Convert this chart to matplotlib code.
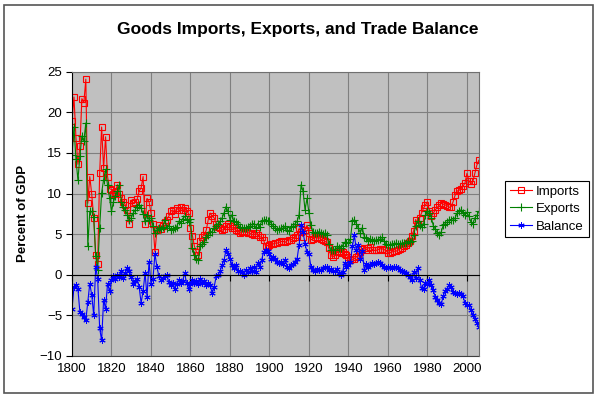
import matplotlib
matplotlib.use('Agg')
import matplotlib.pyplot as plt
from matplotlib.patches import Rectangle

plt.rcParams['font.family'] = ['Liberation Sans', 'DejaVu Sans']

#years on the x axis
years = list(range(1800, 2007))

#goods imports, percent of GDP (one value per year)
imports = [
    19.0, 21.9, 16.9, 13.6, 15.8, 21.7, 21.2, 24.1, 8.8, 12.1,
    9.9, 7.0, 2.4, 1.3, 12.5, 18.2, 13.1, 17.0, 12.1, 10.6,
    10.5, 9.9, 10.2, 11.1, 9.9, 9.5, 9.0, 8.6, 8.0, 6.3,
    9.2, 8.8, 9.0, 9.3, 10.3, 10.7, 12.1, 6.3, 9.4, 9.0,
    7.6, 6.3, 2.8, 5.5, 6.1, 5.6, 6.0, 6.5, 6.8, 7.2,
    7.8, 8.0, 7.5, 8.2, 8.0, 8.3, 8.0, 8.2, 7.8, 7.6,
    5.7, 4.8, 3.5, 2.8, 2.4, 4.2, 4.7, 4.9, 5.5, 6.8,
    7.6, 7.2, 7.0, 6.3, 5.9, 5.7, 5.5, 5.6, 6.0, 6.3,
    6.0, 5.8, 5.7, 5.5, 5.4, 5.1, 5.3, 5.4, 5.3, 5.2,
    5.1, 5.0, 4.9, 5.1, 4.9, 4.7, 4.6, 4.3, 3.5, 3.6,
    3.7, 3.8, 3.8, 3.9, 3.9, 4.0, 4.1, 4.1, 4.0, 4.2,
    4.3, 4.3, 4.5, 4.6, 4.9, 5.7, 5.3, 4.7, 5.5, 6.1,
    5.1, 4.3, 4.4, 4.6, 4.5, 4.6, 4.4, 4.3, 4.1, 4.0,
    3.3, 2.4, 2.2, 2.4, 2.8, 2.9, 2.7, 2.8, 2.5, 2.4,
    2.2, 1.8, 1.9, 2.0, 2.2, 2.3, 2.8, 3.2, 3.3, 3.1,
    3.3, 3.4, 3.1, 3.0, 3.0, 3.1, 3.2, 3.2, 3.1, 3.0,
    2.7, 2.7, 2.8, 2.9, 2.9, 3.0, 3.2, 3.3, 3.6, 3.7,
    3.9, 4.1, 4.8, 5.4, 6.8, 6.3, 7.0, 7.6, 8.2, 8.6,
    9.0, 7.8, 7.2, 7.6, 8.0, 8.3, 8.6, 8.8, 8.7, 8.6,
    8.5, 8.3, 8.4, 9.0, 9.8, 10.3, 10.4, 10.6, 10.9, 11.3,
    12.5, 11.6, 11.2, 11.5, 12.5, 13.5, 14.1]

#goods exports, percent of GDP
exports = [
    14.8, 18.2, 14.2, 11.7, 14.6, 17.1, 16.5, 18.7, 3.5, 7.8,
    7.8, 7.1, 2.3, 0.6, 5.8, 10.1, 11.7, 13.0, 11.0, 9.5,
    7.8, 9.0, 9.7, 10.3, 11.1, 9.0, 8.3, 8.0, 7.4, 6.8,
    7.0, 7.6, 8.0, 8.4, 8.6, 8.2, 7.5, 6.6, 7.4, 6.8,
    7.0, 6.0, 5.2, 5.5, 5.8, 5.6, 5.9, 6.8, 5.8, 6.0,
    5.5, 5.6, 5.8, 5.9, 6.6, 6.4, 6.9, 7.2, 6.8, 6.5,
    6.9, 3.3, 2.4, 2.0, 1.8, 3.5, 3.8, 4.0, 4.6, 4.9,
    5.3, 5.3, 5.7, 6.0, 6.3, 6.6, 7.0, 7.6, 8.4, 7.8,
    6.8, 7.4, 6.6, 6.5, 6.2, 5.9, 5.7, 5.8, 5.7, 5.9,
    6.0, 6.2, 6.3, 5.8, 6.3, 5.9, 6.6, 6.7, 6.8, 6.6,
    6.6, 6.3, 6.0, 5.8, 5.5, 5.6, 5.8, 5.7, 6.0, 5.5,
    5.4, 5.9, 6.0, 6.3, 6.6, 7.4, 11.1, 10.3, 8.0, 9.4,
    7.6, 6.1, 5.3, 5.2, 5.2, 5.3, 5.2, 5.0, 5.1, 4.9,
    3.8, 3.1, 3.0, 3.1, 3.5, 3.3, 3.3, 3.6, 4.0, 3.9,
    4.0, 4.4, 6.6, 6.8, 6.3, 5.7, 5.2, 5.8, 4.7, 4.5,
    4.1, 4.4, 4.3, 4.2, 4.3, 4.3, 4.4, 4.6, 4.2, 3.8,
    3.7, 3.7, 3.8, 3.8, 3.9, 3.8, 3.8, 3.9, 3.9, 3.9,
    4.1, 4.0, 4.2, 4.9, 6.0, 6.6, 6.1, 5.9, 6.2, 7.4,
    7.9, 7.6, 7.0, 6.0, 5.6, 5.1, 4.9, 5.3, 6.1, 6.3,
    6.5, 6.8, 6.8, 6.7, 7.0, 7.6, 7.8, 8.0, 7.6, 7.4,
    7.7, 7.2, 6.5, 6.3, 7.0, 7.3, 7.8]

#trade balance, percent of GDP
balance = [
    -4.2, -1.5, -1.3, -1.8, -4.6, -4.8, -5.2, -5.6, -3.3, -1.1,
    -2.5, -5.0, 1.0, -0.5, -6.6, -8.1, -3.1, -4.2, -1.1, -2.0,
    -0.7, -0.2, -0.5, 0.0, -0.3, 0.4, -0.4, 0.2, 0.8, 0.5,
    -0.3, -1.1, -0.8, -0.5, -1.5, -3.5, -2.0, 0.2, -2.7, 1.6,
    -1.1, -0.5, 2.6, 1.0, -0.2, -0.7, -0.4, -0.2, 0.0, -0.9,
    -1.3, -1.0, -1.7, -1.2, -0.6, -1.0, -0.8, 0.2, -1.0, -1.7,
    -1.2, -0.7, -1.0, -0.8, -1.2, -0.5, -1.0, -0.8, -1.3, -1.0,
    -1.3, -2.3, -1.5, -0.2, 0.0, 0.4, 1.2, 1.8, 3.1, 2.6,
    2.0, 1.2, 0.8, 1.2, 0.5, 0.4, 0.3, 0.0, 0.6, 0.3,
    0.8, 0.5, 1.0, 0.3, 1.4, 1.0, 1.8, 2.8, 3.1, 2.9,
    2.6, 2.0, 2.2, 1.9, 1.6, 1.4, 1.6, 1.3, 1.8, 1.0,
    0.8, 1.2, 1.3, 1.6, 2.0, 3.7, 6.1, 5.3, 3.8, 2.8,
    2.5, 1.0, 0.6, 0.5, 0.7, 0.6, 0.6, 0.8, 1.0, 0.9,
    0.6, 0.7, 0.4, 0.4, 0.7, 0.2, 0.0, 0.3, 1.5, 1.0,
    1.2, 1.6, 3.5, 4.9, 3.0, 3.7, 2.0, 2.9, 0.6, 1.3,
    1.0, 1.2, 1.5, 1.3, 1.5, 1.6, 1.4, 1.2, 1.0, 0.8,
    1.0, 1.0, 0.8, 0.9, 0.9, 0.8, 0.6, 0.5, 0.3, 0.2,
    0.0, -0.3, -0.6, 0.3, -0.4, 0.8, -0.7, -1.6, -1.7, -1.0,
    -1.1, -0.7, -1.3, -1.9, -2.8, -3.1, -3.5, -3.6, -2.6, -2.0,
    -1.7, -1.3, -1.5, -2.1, -2.3, -2.4, -2.3, -2.4, -2.6, -3.5,
    -3.7, -3.7, -4.4, -4.9, -5.4, -6.0, -6.4]

xticks = list(range(1800, 2001, 20))
yticks = list(range(-10, 26, 5))

fig = plt.figure(figsize=(6, 3.99), dpi=100)
ax = fig.add_axes([0.12, 0.108, 0.678, 0.712])
ax.set_facecolor('#c0c0c0')

#the three series, excel style
ax.plot(years, imports, color='#ff0000', lw=0.8, marker='s', ms=4.2,
        mfc='none', mec='#ff0000', mew=0.8, label='Imports')
ax.plot(years, exports, color='#008000', lw=0.8, marker='+', ms=5.5,
        mew=0.8, label='Exports')
ax.plot(years, balance, color='#0000ff', lw=0.8, marker=(6, 2, 0), ms=4.5,
        mew=0.7, label='Balance')

ax.set_xlim(1800, 2006)
ax.set_ylim(-10, 25)
ax.set_xticks(xticks)
ax.set_yticks(yticks)
ax.grid(True, color='#7f7f7f', lw=0.8)
ax.set_axisbelow(True)

#x axis line sits at zero, labels at the bottom
ax.spines['bottom'].set_position(('data', 0))
ax.spines['bottom'].set_color('black')
ax.tick_params(axis='x', labelbottom=False, length=4, direction='out', color='black')
ax.tick_params(axis='y', length=4, direction='out', labelsize=9.5, pad=3)
ax.spines['left'].set_color('black')
ax.spines['top'].set_color('#707070')
ax.spines['right'].set_color('#707070')

sec = ax.secondary_xaxis('bottom')
sec.set_xticks(xticks)
sec.tick_params(length=0, labelsize=9.5, pad=5)
sec.spines['bottom'].set_color('#404040')

ax.set_ylabel('Percent of GDP', fontsize=9.5, fontweight='bold', labelpad=8)
fig.text(0.497, 0.925, 'Goods Imports, Exports, and Trade Balance',
         ha='center', va='center', fontsize=12.5, fontweight='bold')

leg = fig.legend(loc='upper left', bbox_to_anchor=(0.842, 0.547), fontsize=9.5,
                 fancybox=False, edgecolor='black', framealpha=1,
                 handlelength=1.7, borderpad=0.35, labelspacing=0.4, handletextpad=0.3,
                 borderaxespad=0)
leg.get_frame().set_linewidth(0.8)

#outer chart border
fig.patches.append(Rectangle((0.007, 0.015), 0.981, 0.972, transform=fig.transFigure,
                             fill=False, edgecolor='#555555', lw=1.2))

fig.savefig('out.png', dpi=100)
